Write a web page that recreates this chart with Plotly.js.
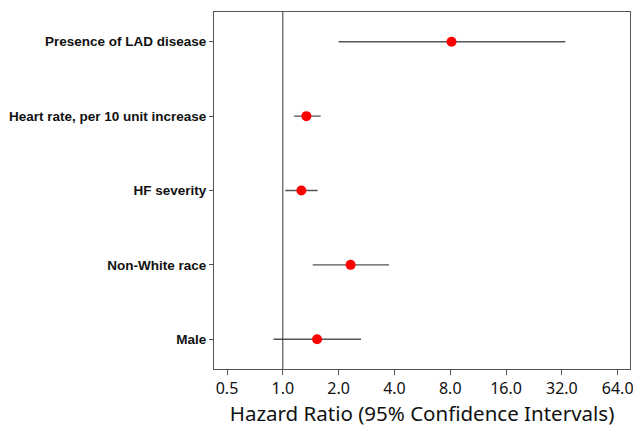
<!DOCTYPE html>
<html>
<head>
<meta charset="utf-8">
<script src="https://cdn.plot.ly/plotly-3.0.1.min.js"></script>
<style>html,body{margin:0;padding:0;background:#fff;}#chart{width:633px;height:433px;}</style>
</head>
<body>
<div id="chart"></div>
<script>
const categories = ["Presence of LAD disease", "Heart rate, per 10 unit increase", "HF severity", "Non-White race", "Male"];
const hazardRatio = [8.13, 1.34, 1.26, 2.32, 1.53];
const ciLower = [2.0, 1.15, 1.03, 1.45, 0.89];
const ciUpper = [33.4, 1.60, 1.54, 3.74, 2.64];
const tickValues = [0.5, 1, 2, 4, 8, 16, 32, 64];
const tickLabels = ["0.5", "1.0", "2.0", "4.0", "8.0", "16.0", "32.0", "64.0"];

const trace = {
  type: 'scatter',
  mode: 'markers',
  x: hazardRatio,
  y: categories,
  marker: {color: '#ff0000', size: 10},
  error_x: {
    type: 'data',
    symmetric: false,
    array: hazardRatio.map((v, i) => ciUpper[i] - v),
    arrayminus: hazardRatio.map((v, i) => v - ciLower[i]),
    color: '#555555',
    thickness: 1.3,
    width: 0
  },
  hoverinfo: 'x+y'
};

const layout = {
  width: 633, height: 433,
  margin: {l: 214, r: 3, t: 12, b: 64},
  paper_bgcolor: '#fff', plot_bgcolor: '#fff',
  showlegend: false,
  xaxis: {
    type: 'log',
    range: [-0.3712, 1.8727],
    tickvals: tickValues,
    ticktext: tickLabels,
    ticklabeloverflow: 'allow',
    ticks: 'outside', ticklen: 5, tickcolor: '#555',
    showgrid: false, zeroline: false,
    showline: true, linecolor: '#555', linewidth: 1, mirror: true,
    tickfont: {family: 'Noto Sans, Open Sans, sans-serif', size: 16, color: '#111'},
    title: {text: 'Hazard Ratio (95% Confidence Intervals)', font: {family: 'Noto Sans, Open Sans, sans-serif', size: 20.5, color: '#111'}, standoff: 4}
  },
  yaxis: {
    type: 'category',
    categoryorder: 'array',
    categoryarray: categories.slice().reverse(),
    range: [-0.4, 4.4],
    ticks: 'outside', ticklen: 4, tickcolor: '#555',
    showgrid: false, zeroline: false,
    showline: true, linecolor: '#555', linewidth: 1, mirror: true,
    tickfont: {family: 'Liberation Sans, Arial, sans-serif', size: 13.5, color: '#111', weight: 'bold'}
  },
  shapes: [{
    type: 'line', xref: 'x', yref: 'paper',
    x0: 1, x1: 1, y0: 0, y1: 1,
    line: {color: '#333', width: 1}
  }]
};

Plotly.newPlot('chart', [trace], layout, {displayModeBar: false, staticPlot: true});
</script>
</body>
</html>
